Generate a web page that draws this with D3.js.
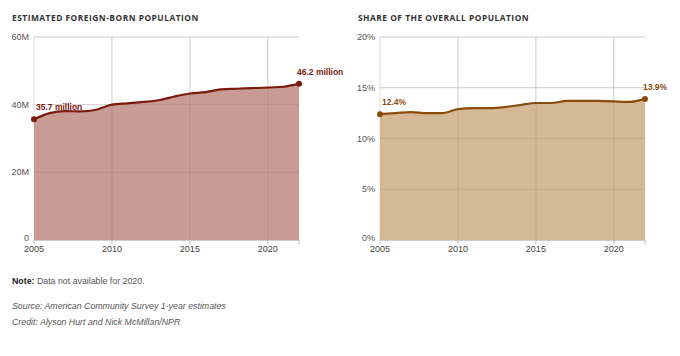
<!DOCTYPE html>
<html><head><meta charset="utf-8">
<script src="https://cdn.jsdelivr.net/npm/d3@7"></script>
<style>
body{margin:0;background:#fff;}
svg{display:block;font-family:"Liberation Sans",Arial,sans-serif;}
</style></head>
<body><svg id="c" width="680" height="356"></svg>
<script>
const years = [2005,2006,2007,2008,2009,2010,2011,2012,2013,2014,2015,2016,2017,2018,2019,2021,2022];
const foreignBorn = [35.7,37.5,38.1,38.0,38.5,40.0,40.4,40.8,41.3,42.4,43.3,43.7,44.5,44.7,44.9,45.3,46.2]; // millions
const sharePct = [12.4,12.5,12.6,12.5,12.5,12.9,13.0,13.0,13.1,13.3,13.5,13.5,13.7,13.7,13.7,13.6,13.9];
const xTicks = [2005,2010,2015,2020];
const leftYTicks = [0,20,40,60];
const leftYLabels = ["0","20M","40M","60M"];
const rightYTicks = [0,5,10,15,20];
const rightYLabels = ["0%","5%","10%","15%","20%"];
const titles = ["ESTIMATED FOREIGN-BORN POPULATION","SHARE OF THE OVERALL POPULATION"];
const firstLabels = ["35.7 million","12.4%"];
const lastLabels = ["46.2 million","13.9%"];

const svg = d3.select("#c");

function panel(opts){
  const g = svg.append("g");
  const x = d3.scaleLinear().domain([2005,2022]).range([opts.x0, opts.x1]);
  const y = d3.scaleLinear().domain([0, opts.yMax]).range([240, 37]);
  g.append("text").attr("x",opts.titleX).attr("y",21).text(opts.title)
    .attr("font-family","'Open Sans',sans-serif").attr("font-weight",700).attr("font-size",8.4)
    .attr("letter-spacing",0.5).attr("fill","#333");
  g.selectAll(".gy").data(opts.yTicks).enter().append("line")
    .attr("x1",opts.x0).attr("x2",opts.x1).attr("y1",d=>y(d)).attr("y2",d=>y(d))
    .attr("stroke","#ddd").attr("stroke-width",1);
  g.selectAll(".gx").data(xTicks).enter().append("line")
    .attr("x1",d=>x(d)).attr("x2",d=>x(d)).attr("y1",37).attr("y2",240)
    .attr("stroke","#ddd").attr("stroke-width",1);
  const data = years.map((yr,i)=>({yr, v: opts.values[i]}));
  const area = d3.area().x(d=>x(d.yr)).y0(y(0)).y1(d=>y(d.v)).curve(d3.curveMonotoneX);
  const line = d3.line().x(d=>x(d.yr)).y(d=>y(d.v)).curve(d3.curveMonotoneX);
  g.append("path").datum(data).attr("d",area).attr("fill",opts.fill);
  g.selectAll(".gy2").data(opts.yTicks.filter(d=>d>0)).enter().append("line")
    .attr("x1",opts.x0).attr("x2",opts.x1).attr("y1",d=>y(d)).attr("y2",d=>y(d))
    .attr("stroke","rgba(0,0,0,0.07)");
  g.selectAll(".gx2").data(xTicks.slice(1)).enter().append("line")
    .attr("x1",d=>x(d)).attr("x2",d=>x(d)).attr("y1",37).attr("y2",240)
    .attr("stroke","rgba(0,0,0,0.07)");
  g.append("path").datum(data).attr("d",line).attr("fill","none")
    .attr("stroke",opts.stroke).attr("stroke-width",2.2);
  g.append("line").attr("x1",opts.x0).attr("x2",opts.x1).attr("y1",240.5).attr("y2",240.5).attr("stroke","#ccc");
  g.selectAll(".tk").data(xTicks.concat([2022])).enter().append("line")
    .attr("x1",d=>x(d)).attr("x2",d=>x(d)).attr("y1",240).attr("y2",244).attr("stroke","#bbb");
  g.selectAll(".xl").data(xTicks).enter().append("text")
    .attr("x",d=>x(d)).attr("y",252).attr("text-anchor","middle")
    .attr("font-size",9).attr("fill","#444").text(d=>d);
  g.selectAll(".yl").data(opts.yTicks).enter().append("text")
    .attr("x",opts.x0-5).attr("y",(d)=>y(d)+(d===0?1:3)).attr("text-anchor","end")
    .attr("font-size",9).attr("fill","#555").text((d,i)=>opts.yLabels[i]);
  const ends = [data[0], data[data.length-1]];
  g.selectAll(".dot").data(ends).enter().append("circle")
    .attr("cx",d=>x(d.yr)).attr("cy",d=>y(d.v)).attr("r",3).attr("fill",opts.stroke);
  g.append("text").attr("x",x(2005)+2).attr("y",y(data[0].v)-9)
    .attr("font-size",8.5).attr("font-weight",700).attr("fill",opts.stroke).text(opts.first);
  g.append("text").attr("x",x(2022)-2).attr("y",y(data[data.length-1].v)-9)
    .attr("font-size",8.5).attr("font-weight",700).attr("fill",opts.stroke).text(opts.last);
}

panel({x0:34,x1:299,titleX:12,yMax:60,yTicks:leftYTicks,yLabels:leftYLabels,values:foreignBorn,
  fill:"#c99b95",stroke:"#7b1a0e",title:titles[0],first:firstLabels[0],last:lastLabels[0]});
panel({x0:380,x1:645,titleX:358,yMax:20,yTicks:rightYTicks,yLabels:rightYLabels,values:sharePct,
  fill:"#d5b995",stroke:"#8a4c0b",title:titles[1],first:firstLabels[1],last:lastLabels[1]});

const notes = svg.append("g").attr("font-size",8.8).attr("fill","#555");
const n = notes.append("text").attr("x",12).attr("y",284);
n.append("tspan").attr("font-weight",700).attr("fill","#222").text("Note:");
n.append("tspan").text(" Data not available for 2020.");
notes.append("text").attr("x",12).attr("y",309).attr("font-style","italic").text("Source: American Community Survey 1-year estimates");
notes.append("text").attr("x",12).attr("y",325).attr("font-style","italic").text("Credit: Alyson Hurt and Nick McMillan/NPR");
</script></body></html>
